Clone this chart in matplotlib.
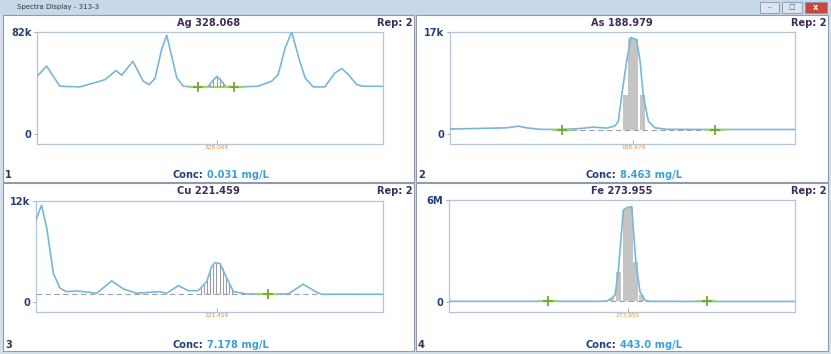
import matplotlib.pyplot as plt
from matplotlib.patches import Rectangle

# figure size in pixels (dpi 100)
W, H = 831, 354

# x positions are % of the displayed wavelength window, y values in counts (k or M)
ag_x = [0, 2.8, 6.6, 12.4, 18.2, 19.7, 22.8, 24.5, 27.7, 30.7, 32.4, 34.1, 36.0, 37.5, 40.4,
        42.3, 46.2, 49.4, 50.7, 52.0, 53.3, 54.6, 58.0, 63.9, 67.8, 69.7, 71.7, 73.6, 76.0,
        77.5, 79.8, 83.2, 86.1, 88.1, 90.0, 92.4, 94.2, 100]
ag_y = [46.3, 54.5, 38.3, 37.8, 42.4, 43.7, 50.9, 47.2, 58.4, 42.4, 39.6, 44.5, 67.8, 79.4, 45.0,
        38.3, 37.8, 38.0, 42.5, 46.3, 42.5, 38.0, 37.8, 38.3, 42.4, 47.7, 69.0, 82.0, 58.0,
        45.0, 37.8, 37.8, 49.0, 52.5, 47.7, 39.6, 38.3, 38.3]
ag_fill_x = [50.0, 51.0, 52.0, 53.0, 53.9]
ag_fill_y = [40.5, 44.5, 46.3, 45.0, 41.5]
ag_marks = [46.5, 56.9]

as_x = [0, 16.4, 19.8, 22.2, 26.1, 32.4, 37.7, 41.5, 45.4, 47.8, 48.8, 49.8, 51.2, 52.4, 54.1,
        55.1, 56.0, 57.5, 59.4, 62.8, 76.8, 100]
as_y = [0.8, 1.0, 1.28, 1.0, 0.75, 0.72, 0.88, 1.12, 0.95, 1.3, 2.1, 6.55, 12.1, 16.1, 15.7,
        12.1, 6.55, 2.1, 1.0, 0.75, 0.72, 0.72]
as_fill_x = [50.8, 52.4, 53.8, 55.9]
as_fill_y = [6.55, 16.0, 15.8, 6.55]
as_marks = [32.4, 76.8]

cu_x = [0, 1.6, 3.1, 5.0, 6.9, 8.8, 11.7, 17.5, 21.8, 25.2, 29.0, 35.7, 37.7, 41.0, 43.9,
        46.8, 49.2, 50.6, 51.6, 53.0, 55.0, 56.9, 60.7, 66.9, 72.7, 77.0, 80.9, 82.3, 100]
cu_y = [9.74, 11.5, 8.76, 3.41, 1.63, 1.22, 1.31, 1.03, 2.5, 1.54, 1.03, 1.22, 1.03, 1.94, 1.34,
        1.34, 2.41, 4.2, 4.67, 4.56, 2.82, 1.22, 0.95, 0.91, 0.95, 2.1, 1.15, 0.91, 0.91]
cu_fill_x = [47.5, 48.4, 49.3, 50.2, 51.1, 52.0, 52.9, 53.8, 54.7, 55.6, 56.5]
cu_fill_y = [1.6, 2.0, 2.6, 3.6, 4.4, 4.65, 4.6, 4.0, 3.1, 2.2, 1.5]
cu_marks = [66.9]

fe_x = [0, 28.7, 43.6, 45.6, 47.0, 48.0, 48.9, 50.4, 51.4, 52.8, 54.0, 55.2, 56.6, 58.0, 74.5, 100]
fe_y = [0.03, 0.03, 0.03, 0.04, 0.2, 0.4, 1.77, 5.41, 5.55, 5.6, 2.36, 0.59, 0.1, 0.03, 0.02, 0.02]
fe_fill_x = [47.0, 48.9, 50.9, 52.3, 54.0, 55.7]
fe_fill_y = [0.2, 1.77, 5.45, 5.6, 2.36, 0.4]
fe_marks = [28.7, 74.5]

titles = ["Ag 328.068", "As 188.979", "Cu 221.459", "Fe 273.955"]
center_labels = ["328.068", "188.979", "221.459", "273.955"]
centers = [51.9, 53.1, 52.1, 51.8]
conc_values = ["0.031 mg/L", "8.463 mg/L", "7.178 mg/L", "443.0 mg/L"]
y_max = [82, 17, 12, 6]
y_top_labels = ["82k", "17k", "12k", "6M"]
baselines = [37.6, 0.72, 0.91, 0.02]

LINE = "#78b6da"
TITLE_C = "#3d2d5c"
NAVY = "#24407a"
CONC_C = "#3a9fd6"
GREEN = "#6faa2c"
FS = 7.1


def fig_box(x0, y0, x1, y1):
    return [x0 / W, 1 - y1 / H, (x1 - x0) / W, (y1 - y0) / H]


def ptext(fig, x, y, s, **kw):
    fig.text(x / W, 1 - y / H, s, va="center", **kw)


def add_rect(fig, x0, y0, x1, y1, **kw):
    b = fig_box(x0, y0, x1, y1)
    fig.patches.append(Rectangle((b[0], b[1]), b[2], b[3], transform=fig.transFigure,
                                 zorder=-1, **kw))


def draw_chrome(fig):
    add_rect(fig, 0, 0, W, H, facecolor="#d3dfeb", edgecolor="none")
    add_rect(fig, 0, 0, W, 15, facecolor="#c7d8ea", edgecolor="none")
    ptext(fig, 17, 7.5, "Spectra Display - 313-3", fontsize=5, color="#333333")
    # window buttons
    for x0, x1, fc in [(760, 779, "#dbe5f0"), (782, 802, "#dbe5f0"), (805, 827, "#c8483e")]:
        add_rect(fig, x0, 2, x1, 13, facecolor=fc, edgecolor="#8596aa", lw=0.6)
    ptext(fig, 769.5, 7.5, "\u2013", fontsize=5, color="#445566", ha="center")
    ptext(fig, 792, 7.5, "\u25a1", fontsize=5, color="#445566", ha="center")
    ptext(fig, 816, 7.5, "x", fontsize=6, color="white", ha="center", fontweight="bold")


def draw_panel(fig, i, frame, axbox, x, y, fill_x, fill_y, fill_style, marks, title_y, conc_y,
               split_x, baseline_span):
    add_rect(fig, *frame, facecolor="white", edgecolor="#8e9baa", lw=0.8)
    cx = (frame[0] + frame[2]) / 2
    ptext(fig, cx, title_y, titles[i], fontsize=FS, fontweight="bold", color=TITLE_C, ha="center")
    ptext(fig, frame[2] - 1, title_y, "Rep: 2", fontsize=FS, fontweight="bold", color=TITLE_C, ha="right")
    ptext(fig, frame[0] + 2, conc_y, str(i + 1), fontsize=FS, fontweight="bold", color=TITLE_C, ha="left")
    ptext(fig, split_x, conc_y, "Conc:", fontsize=FS, fontweight="bold", color=NAVY, ha="right")
    ptext(fig, split_x + 4, conc_y, conc_values[i], fontsize=FS, fontweight="bold", color=CONC_C, ha="left")

    ax = fig.add_axes(fig_box(*axbox))
    ax.set_zorder(2)
    ymax = y_max[i]
    base = baselines[i]
    ax.set_xlim(0, 100)
    ax.set_ylim(-0.1 * ymax, ymax)
    for s in ax.spines.values():
        s.set_color("#b3c5d8")
        s.set_linewidth(0.9)

    ax.set_yticks([0, ymax])
    ax.set_yticklabels(["0", y_top_labels[i]], fontsize=FS, fontweight="bold", color=NAVY)
    ax.tick_params(axis="y", length=2.5, width=0.6, color="#8899aa", pad=1.5)
    ax.set_xticks([centers[i]])
    ax.set_xticklabels([center_labels[i]], fontsize=4.2, color="#e0913a")
    ax.tick_params(axis="x", direction="in", length=3, width=0.6, color="#9a9a9a", pad=1)

    # baseline between integration markers
    if i == 0:
        ax.plot(baseline_span, [base, base], color="#a6d45e", lw=1.4, zorder=2)
    else:
        ax.plot(baseline_span, [base, base], color="#a0a0a0", lw=0.8, ls=(0, (5, 3)), zorder=2)

    if fill_style == "bars":
        ax.bar(fill_x, [v - base for v in fill_y], bottom=base, width=1.5,
               color="#c4c4c4", edgecolor="none", zorder=2)
    else:
        ax.vlines(fill_x, base, fill_y, color="#9c9c9c", lw=0.8, zorder=2)

    ax.plot(x, y, color=LINE, lw=1.2, zorder=3)

    for m in marks:
        ax.plot([m - 2.5, m + 2.5], [base, base], color="#a6d45e", lw=1.6, zorder=4)
    ax.plot(marks, [base] * len(marks), ls="none", marker="+", ms=7, mew=1.3, color=GREEN, zorder=5)
    return ax


def main():
    fig = plt.figure(figsize=(W / 100, H / 100), dpi=100)
    draw_chrome(fig)

    draw_panel(fig, 0, (3, 15, 414, 182), (37, 32, 383, 144), ag_x, ag_y, ag_fill_x, ag_fill_y,
               "lines", ag_marks, 23, 175, 203, [44.2, 59.5])
    draw_panel(fig, 1, (416, 15, 828, 182), (450, 32, 795, 144), as_x, as_y, as_fill_x, as_fill_y,
               "bars", as_marks, 23, 175, 616, as_marks)
    draw_panel(fig, 2, (3, 183, 414, 351), (36, 201, 383, 312), cu_x, cu_y, cu_fill_x, cu_fill_y,
               "lines", cu_marks, 191, 345, 203, [0, 100])
    draw_panel(fig, 3, (416, 183, 828, 351), (449, 200, 795, 312), fe_x, fe_y, fe_fill_x, fe_fill_y,
               "bars", fe_marks, 191, 345, 616, fe_marks)

    fig.savefig("out.png", dpi=100)


if __name__ == "__main__":
    main()
